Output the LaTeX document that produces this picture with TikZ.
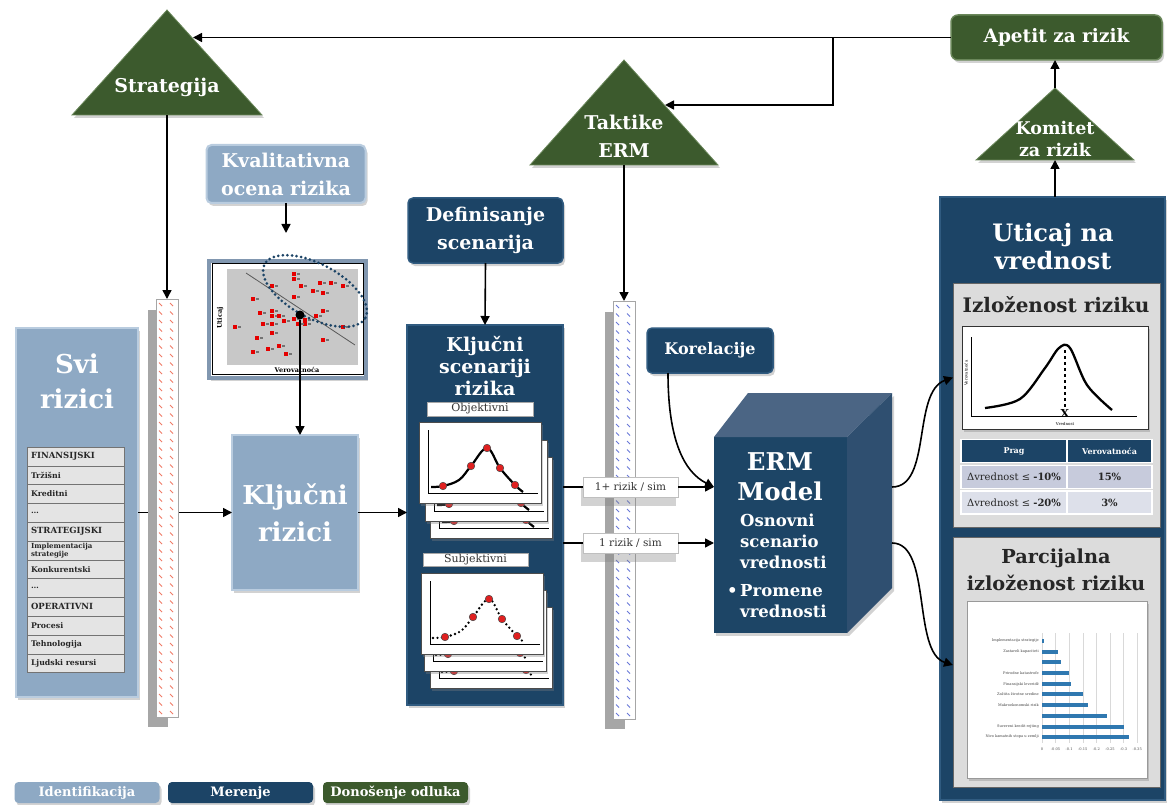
\documentclass[tikz,border=0pt]{standalone}
\usepackage{fontspec}
\setmainfont{DejaVu Serif}
\usetikzlibrary{arrows.meta,shadows,calc}

\definecolor{navy}{HTML}{1C4466}
\definecolor{navyedge}{HTML}{305B80}
\definecolor{leaf}{HTML}{3C5A2D}
\definecolor{leafedge}{HTML}{6A875A}
\definecolor{steel}{HTML}{8EA9C4}
\definecolor{steeledge}{HTML}{B9CCDF}
\definecolor{panel}{HTML}{DCDCDC}
\definecolor{rowgray}{HTML}{E4E4E4}
\definecolor{plotgray}{HTML}{C8C8C8}
\definecolor{framegray}{HTML}{8197B0}
\definecolor{barred}{HTML}{F07A66}
\definecolor{barblue}{HTML}{6878D8}
\definecolor{cubetop}{HTML}{4B6584}
\definecolor{cubeside}{HTML}{2F4F70}
\definecolor{cubefront}{HTML}{1D4566}
\definecolor{chartbar}{HTML}{2F78B0}
\definecolor{rowA}{HTML}{C7CBDC}
\definecolor{rowB}{HTML}{DDE0EA}
\definecolor{dotred}{HTML}{E02020}

\newcommand\fsz[2]{\fontsize{#1}{#2}\selectfont}
\newcommand\hd[2]{\bfseries\fontsize{#1}{#2}\selectfont}

% one stacked scenario card: #1,#2 = top-left corner, #3 = curve style
\newcommand\scenariocard[3]{%
  \begin{scope}[shift={(#1,#2)}]
    \fill[white, draw=black!70, line width=.6pt, shade drop] (0,0) rectangle (122,81);
    \draw[black, line width=.8pt] (9,8) -- (9,71) -- (119,71);
    \draw[#3] plot[smooth, tension=.6] coordinates {(12,65) (24,64) (40,58) (52,44) (68,26) (81,46) (96,63) (104,70)};
    \foreach \px/\py in {24/64,52/44,68/26,81/46,96/63}
      \filldraw[fill=dotred, draw=black!70, line width=.5pt] (\px,\py) circle[radius=3.8pt];
  \end{scope}}

\begin{document}
\begin{tikzpicture}[
  x=1pt, y=-1pt,
  arr/.style={-{Triangle[length=9pt,width=9pt]}, line width=1.6pt},
  shade drop/.style={drop shadow={shadow xshift=2pt, shadow yshift=-3pt, opacity=.35}},
  area/.style={inner sep=0pt, outer sep=0pt},
  lightbox/.style={area, fill=steel, draw=steeledge, line width=2pt, text=white, align=center, shade drop},
  darkbox/.style={area, fill=navy, draw=navyedge, line width=1.5pt, rounded corners=5pt, text=white, align=center, shade drop},
  greenbox/.style={area, fill=leaf, draw=leafedge, line width=1.5pt, rounded corners=7pt, text=white, align=center, shade drop},
  tri/.style={fill=leaf, draw=leafedge, line width=.8pt, shade drop},
  tritext/.style={text=white, align=center, inner sep=0pt},
  rowbox/.style={inner sep=0pt, inner xsep=4pt, minimum width=97pt, minimum height=18.8pt, text width=89pt, align=left, fill=rowgray, draw=black!55, line width=.6pt, text=black!85},
  rowhd/.style={rowbox, font=\hd{8.5}{10}},
  rowit/.style={rowbox, font=\hd{7.8}{9}},
  rowtwo/.style={rowbox, font=\hd{7}{6.2}},
  tagbox/.style={area, fill=white, draw=black!35, line width=.6pt, font=\fsz{11}{12}, text=black!80},
  simtag/.style={area, fill=white, draw=black!25, line width=.6pt, minimum width=95pt, minimum height=20pt, font=\fsz{10.5}{11}, text=black!80,
    drop shadow={shadow xshift=-2pt, shadow yshift=-9pt, opacity=.35}},
  th/.style={area, fill=navy, draw=white, line width=1.5pt, minimum height=23pt, text=white, font=\hd{8}{10}},
  tdA/.style={area, fill=rowA, draw=white, line width=1.5pt, minimum height=23pt, text=black!85, font=\fsz{10}{11}},
  tdB/.style={tdA, fill=rowB},
  ticklab/.style={inner sep=0pt, font=\fsz{3.6}{4}, text=black!70},
  catlab/.style={inner sep=0pt, anchor=east, font=\fsz{3.6}{4}, text=black!75},
  legendbox/.style={area, rounded corners=4pt, minimum width=145pt, minimum height=21pt, text=white, font=\hd{13}{14}, shade drop},
  objcurve/.style={line width=2.2pt, black},
  subjcurve/.style={line width=2.6pt, black, dash pattern=on 0pt off 4.5pt, line cap=round},
]
\useasboundingbox (0,0) rectangle (1167,805);
\fill[white] (0,0) rectangle (1167,805);

% ---------------- decision layer ----------------
\node[greenbox, minimum width=211pt, minimum height=45pt, font=\hd{18.5}{20}] (apetit) at (1056.5,37.5) {Apetit za rizik};

\path[tri] (72,115) -- (167,10) -- (262,115) -- cycle;
\node[tritext, font=\hd{19}{21}] (strat) at (167,87) {Strategija};
\coordinate (stratE) at (193,37.5);
\coordinate (stratS) at (167,115);

\path[tri] (530,165) -- (624,60) -- (718,165) -- cycle;
\node[tritext, font=\hd{19}{28}] (takt) at (624,136) {Taktike\\ERM};
\coordinate (taktE) at (665,105);
\coordinate (taktS) at (624,165);

\path[tri] (976,160) -- (1055,88) -- (1134,160) -- cycle;
\node[tritext, font=\hd{17.5}{22}] (kom) at (1055,139) {Komitet\\za rizik};
\coordinate (komA) at (1055,88);
\coordinate (komS) at (1055,160);

\coordinate (split) at (833,37.5);
\draw[arr] (apetit.west) -- (stratE);
\draw[arr] (split) |- (taktE);

% ---------------- identification ----------------
\node[lightbox, minimum width=122pt, minimum height=369pt] (svi) at (77,512.5) {};
\node[text=white, font=\hd{26}{35}, align=center] (sviT) at (77,381) {Svi\\rizici};
\foreach \t/\k [count=\i] in {FINANSIJSKI/hd,Tržišni/it,Kreditni/it,\ldots/it,STRATEGIJSKI/hd,{Implementacija\\strategije}/two,Konkurentski/it,\ldots/it,OPERATIVNI/hd,Procesi/it,Tehnologija/it,Ljudski resursi/it}
  \node[row\k] (row\i) at (75.5,{447+18.8*(\i-0.5)}) {\t};

\node[lightbox, minimum width=126pt, minimum height=155pt, font=\hd{26}{37}] (kr) at (295,512.5) {Ključni\\rizici};

\node[lightbox, rounded corners=5pt, minimum width=159pt, minimum height=58pt, font=\hd{19}{28}] (kval) at (286,174) {Kvalitativna\\ocena rizika};
\coordinate (kvalT) at (286,233);

% qualitative risk map
\node[area, fill=white, draw=framegray, line width=4pt, minimum width=157pt, minimum height=117pt, shade drop] (scat) at (287.5,319.5) {};
\draw[black, line width=.8pt] (212,263) rectangle (363,374);
\fill[plotgray] (227,269) rectangle (358,365);
\draw[black!65, line width=.8pt] (246,273) -- (355,345);
\foreach \sx/\sy in {294/274,294/279,301/286,320/283,331/283,343/286,272/286,313/291,323/293,294/297,253/299,260/313,272/311,272/316,279/316,284/321,294/319,305/320,305/324,316/316,323/311,235/327,263/324,272/324,298/324,343/327,272/333,257/338,279/346,268/349,253/352,286/354,323/340}{
  \fill[red!90!black] (\sx-2,\sy-2) rectangle ++(4,4);
  \fill[black!55] (\sx+3,\sy-1) rectangle ++(3,2);
}
\node[font=\hd{6.5}{7}, rotate=90, inner sep=0pt] (ylab) at (220,318) {Uticaj};
\node[font=\hd{6.5}{7}, inner sep=0pt] (xlab) at (297,369.5) {Verovatnoća};
\draw[navy, line width=3pt, dash pattern=on 0pt off 4.6pt, line cap=round, rotate around={-28:(315,291)}] (315,291) ellipse [x radius=57pt, y radius=27pt];
\node[circle, fill=black, minimum size=9pt, inner sep=0pt] (dot) at (300,315) {};

\draw[arr] (kval.south) -- (kvalT);
\draw[arr] (dot) -- (kr.north -| dot);

% all risks -> key risks, through the strategy bar
\draw[arr] (svi.east) -- (kr.west);
\fill[black!35] (148,310) rectangle (168,727);
\node[area, fill=white, draw=black!35, line width=.6pt, minimum width=22pt, minimum height=418pt] (redbar) at (167,508) {};
\foreach \yy in {303,311.5,...,712}{
  \draw[barred, line width=1pt] (159,\yy) -- ++(3,3);
  \draw[barred, line width=1pt] (170,\yy) -- ++(3,3);
}
\draw[arr] (stratS) -- (redbar.north);

% ---------------- measurement ----------------
\node[darkbox, minimum width=155pt, minimum height=65pt, font=\hd{19}{28}] (def) at (485.5,230.5) {Definisanje\\scenarija};
\node[darkbox, rounded corners=0pt, minimum width=156pt, minimum height=380pt] (kscen) at (485,515) {};
\node[text=white, font=\hd{19}{22}, align=center, inner sep=0pt] (kscenT) at (485,366) {Ključni\\scenariji\\rizika};
\node[tagbox, minimum width=106pt, minimum height=14pt] (objL) at (480,409) {Objektivni};
\node[tagbox, minimum width=105pt, minimum height=13pt] (subL) at (475.5,559.5) {Subjektivni};

\scenariocard{430}{457}{objcurve}
\scenariocard{425}{440}{objcurve}
\scenariocard{419}{422}{objcurve}
\scenariocard{430}{607}{subjcurve}
\scenariocard{424}{590}{subjcurve}
\scenariocard{421}{573}{subjcurve}

\draw[arr] (def.south) -- (kscen.north);
\draw[arr] (kr.east) -- (kscen.west |- kr.east);

% ERM model block
\node[area, fill=cubefront, minimum width=133pt, minimum height=196pt, shade drop] (erm) at (780.5,535) {};
\fill[cubetop] (erm.north west) -- ++(34,-44) -- ++(144,0) -- (erm.north east) -- cycle;
\fill[cubeside, shade drop] (erm.north east) -- ++(45,-44) -- ++(0,195) -- (erm.south east) -- cycle;
\node[text=white, font=\hd{24.5}{30}, align=center, inner sep=0pt] (ermT) at (780,477) {ERM\\Model};
\node[text=white, font=\hd{16.5}{21}, align=left, anchor=north west, inner sep=0pt] (ermB) at (727,514) {\hspace*{13pt}Osnovni\\\hspace*{13pt}scenario\\\hspace*{13pt}vrednosti};
\node[text=white, font=\hd{16.5}{21}, align=left, anchor=north west, inner sep=0pt] (ermC) at (727,584) {\makebox[13pt][l]{•}Promene\\\hspace*{13pt}vrednosti};
\coordinate (ermR1) at (892,487);
\coordinate (ermR2) at (892,543);

% tactics bar and scenario flows
\fill[black!35] (605,312) rectangle (625,729);
\node[area, fill=white, draw=black!35, line width=.6pt, minimum width=22pt, minimum height=418pt] (bluebar) at (624,510) {};
\foreach \yy in {305,313.5,...,714}{
  \draw[barblue, line width=1pt] (616,\yy) -- ++(3,3);
  \draw[barblue, line width=1pt] (627,\yy) -- ++(3,3);
}
\draw[arr] (taktS) -- (bluebar.north);

\node[simtag] (lab1) at (630.5,487) {1+ rizik / sim};
\node[simtag] (lab2) at (630.5,543) {1 rizik / sim};
\draw[line width=1.6pt] (kscen.east |- lab1) -- (lab1.west);
\draw[line width=1.6pt] (kscen.east |- lab2) -- (lab2.west);
\draw[arr] (lab1.east) -- (erm.west |- lab1);
\draw[arr] (lab2.east) -- (erm.west |- lab2);

\node[darkbox, minimum width=126pt, minimum height=45pt, font=\hd{16}{20}] (kor) at (710,350.5) {Korelacije};
\draw[arr] ($(kor.south west)+(21,0)$) .. controls (668,440) and (684,472) .. (erm.west |- lab1);

% ---------------- value impact ----------------
\node[area, fill=navy, draw=navyedge, line width=1.5pt, minimum width=225pt, minimum height=603pt, shade drop] (ut) at (1052.5,498.5) {};
\node[text=white, font=\hd{24}{28}, align=center, inner sep=0pt] (utT) at (1053,247) {Uticaj na\\vrednost};
\draw[arr] (ut.north -| komS) -- (komS);
\draw[arr] (komA) -- (apetit.south -| komA);

\node[area, fill=panel, draw=black!60, line width=.8pt, minimum width=207pt, minimum height=244pt] (izl) at (1056.5,405) {};
\node[font=\hd{20}{22}, text=black!85, inner sep=0pt] (izlT) at (1056,305) {Izloženost riziku};
\node[area, fill=white, draw=black!80, line width=1pt, minimum width=186pt, minimum height=103pt, shade drop] (izlc) at (1055,377.5) {};
\draw[black, line width=.8pt] (971,337) -- (971,416) -- (1137,416);
\draw[black, line width=2.3pt] plot[smooth, tension=.55] coordinates {(985,408) (1020,399) (1045,368) (1059,348) (1070,348) (1087,385) (1112,410)};
\draw[black, line width=2pt, dashed] (1065,350) -- (1065,410);
\node[font=\hd{11}{11}, inner sep=0pt] (xmark) at (1065,413) {X};
\node[font=\fsz{4}{4}, rotate=90, inner sep=0pt] (izly) at (966,373) {Verovatnoća};
\node[font=\fsz{4}{4}, inner sep=0pt] (izlx) at (1065,424) {Vrednost};

\node[th, minimum width=106pt] (th1) at (1014,451) {Prag};
\node[th, minimum width=85pt] (th2) at (1109.5,451) {Verovatnoća};
\node[tdA, minimum width=106pt] (c11) at (1014,477) {Δvrednost ≤ \textbf{-10\%}};
\node[tdA, minimum width=85pt, font=\hd{10}{11}] (c12) at (1109.5,477) {15\%};
\node[tdB, minimum width=106pt] (c21) at (1014,502.5) {Δvrednost ≤ \textbf{-20\%}};
\node[tdB, minimum width=85pt, font=\hd{10}{11}] (c22) at (1109.5,502.5) {3\%};

\node[area, fill=panel, draw=black!60, line width=.8pt, minimum width=207pt, minimum height=250pt] (parc) at (1056.5,662) {};
\node[font=\hd{19.3}{27}, text=black!85, align=center, inner sep=0pt] (parcT) at (1056,570) {Parcijalna\\izloženost riziku};
\node[area, fill=white, draw=black!40, line width=.6pt, minimum width=180pt, minimum height=177pt, shade drop] (parcc) at (1057,689.5) {};
\foreach \k in {0,...,7}
  \draw[black!15, line width=.5pt] ({1042+13.6*\k},633) -- ({1042+13.6*\k},743);
\foreach \v [count=\k from 0] in {0,-0.05,-0.1,-0.15,-0.2,-0.25,-0.3,-0.35}
  \node[ticklab] (tk\k) at ({1042+13.6*\k},749) {\v};
\foreach \yy/\vv/\lab [count=\i] in {641/0.006/Implementacija strategije,652/0.06/Zastareli kapaciteti,662/0.07/{},673/0.1/Prirodne katastrofe,684/0.105/Finansijski leveridž,694/0.15/Zaštita životne sredine,705/0.168/Makroekonomski rizik,716/0.24/{},727/0.3/Suvereni kredit rejting,737/0.32/Nivo kamatnih stopa u zemlji}{
  \fill[chartbar] (1042,\yy-2) rectangle ({1042+272*\vv},\yy+2);
  \node[catlab] (cat\i) at (1039,\yy) {\lab};
}

\draw[arr] (ermR1) .. controls (932,487) and (912,392) .. (izl.west |- izlc.west);
\coordinate (parcIn) at (953,665);
\draw[arr] (ermR2) .. controls (932,543) and (912,652) .. (parcIn);

% ---------------- legend ----------------
\node[legendbox, fill=steel] (lgI) at (87,792.5) {Identifikacija};
\node[legendbox, fill=navy] (lgM) at (240.5,792.5) {Merenje};
\node[legendbox, fill=leaf] (lgD) at (395.5,792.5) {Donošenje odluka};
\end{tikzpicture}
\end{document}
